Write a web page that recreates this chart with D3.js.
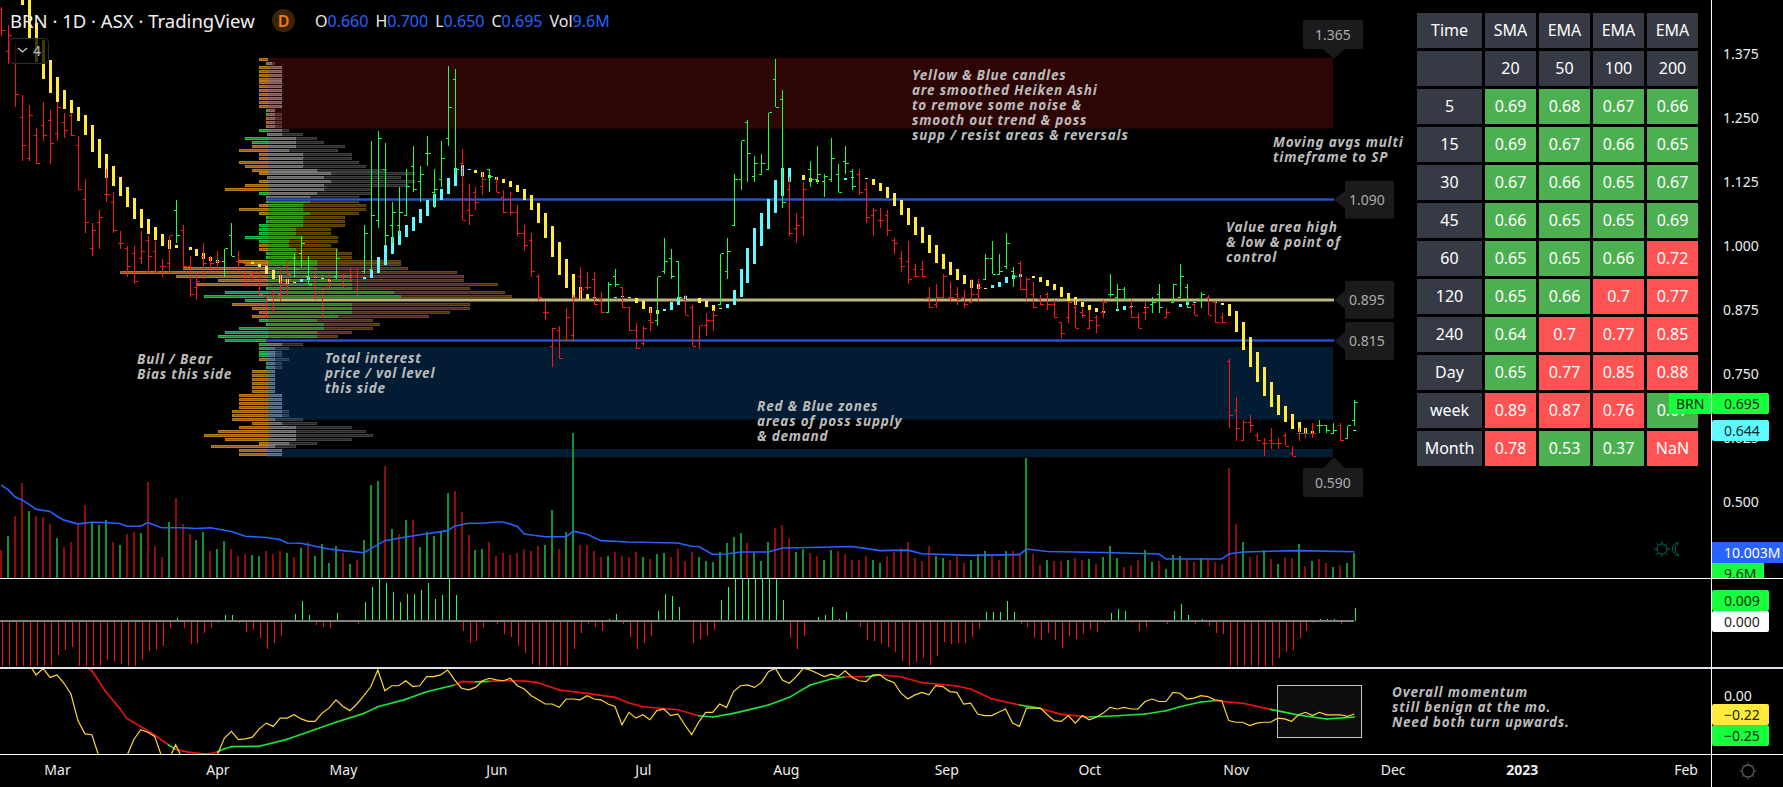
<!DOCTYPE html>
<html>
<head>
<meta charset="utf-8">
<style>
html, body { margin: 0; padding: 0; background: #000; overflow: hidden; }
svg { display: block; }
text { font-family: "Noto Sans", sans-serif; }
.note { font-weight: 700; font-style: italic; font-size: 13.5px; letter-spacing: 0.8px; fill: #bcbcbc; }
</style>
<script src="https://cdn.jsdelivr.net/npm/d3@7"></script>
</head>
<body>
<svg id="chart" width="1783" height="787"></svg>
<script>
// ---- daily bars (price in A$)
var barOpen = [
1.46,1.38,1.355,1.25,1.17,1.215,1.235,1.245,1.22,1.24,
1.255,1.195,1.09,.995,1.045,1.10,1.085,1.005,.995,.985,
.975,1.01,.99,.96,.965,1.07,1.03,.96,.92,.98,
.975,.97,.97,1.02,.97,.965,.945,.95,.90,.88,
.905,.925,.975,.985,.94,.915,.865,.92,.94,.94,
.935,.94,.95,.955,1.05,1.15,1.04,1.04,1.06,1.155,
1.125,1.18,1.105,1.13,1.21,1.325,1.16,1.07,1.105,1.115,
1.15,1.13,1.095,1.09,1.065,1.025,1.01,.94,.87,.805,
.835,.815,.825,.94,.92,.935,.895,.87,.94,.92,
.88,.835,.81,.855,.855,.95,.975,.97,.895,.88,
.815,.845,.855,.885,.95,1.04,1.13,1.24,1.135,1.14,
1.15,1.325,1.285,1.11,1.035,1.055,1.15,1.13,1.125,1.13,
1.14,1.165,1.145,1.14,1.11,1.06,1.05,1.06,1.01,.975,
.97,.955,.955,.90,.885,.90,.90,.905,.90,.89,
.905,.935,.975,.945,.96,.95,.965,.915,.905,.895,
.905,.885,.85,.86,.88,.87,.84,.86,.87,.905,
.90,.915,.88,.86,.87,.885,.905,.86,.89,.90,
.92,.885,.895,.90,.89,.86,.775,.68,.62,.655,
.63,.615,.62,.615,.63,.595,.635,.635,.635,.65,
.65,.635,.65,.625,.66];
var barHigh = [
1.465,1.43,1.395,1.295,1.275,1.23,1.28,1.265,1.28,1.26,
1.26,1.215,1.13,1.045,1.07,1.15,1.105,1.03,1.0,1.0,
1.03,1.02,1.01,.975,1.02,1.09,1.04,.98,.95,1.005,
.98,.99,.995,1.045,.99,.965,.95,.95,.905,.915,
.955,.97,.985,1.02,.98,.96,.92,.95,.995,.945,
.96,.955,1.04,1.205,1.225,1.2,1.085,1.115,1.15,1.195,
1.155,1.215,1.15,1.205,1.35,1.345,1.19,1.12,1.115,1.145,
1.15,1.135,1.11,1.105,1.08,1.04,1.025,.945,.89,.84,
.845,.88,.905,.96,.95,.95,.91,.93,.955,.92,
.88,.85,.845,.88,.94,1.015,.995,.97,.905,.885,
.845,.87,.875,.985,1.015,1.14,1.205,1.245,1.175,1.18,
1.26,1.365,1.305,1.135,1.065,1.125,1.165,1.195,1.14,1.21,
1.16,1.195,1.15,1.15,1.125,1.075,1.075,1.07,1.015,.99,
1.01,.965,.97,.92,.925,.945,.93,.92,.915,.935,
.935,.985,1.01,.985,1.025,.96,.97,.94,.93,.905,
.91,.895,.85,.89,.895,.88,.875,.865,.895,.945,
.925,.92,.895,.87,.89,.90,.925,.88,.925,.965,
.925,.885,.91,.905,.89,.87,.78,.705,.66,.67,
.635,.625,.645,.625,.635,.61,.645,.645,.655,.66,
.65,.655,.655,.65,.70];
var barLow = [
1.41,1.355,1.27,1.165,1.165,1.16,1.205,1.16,1.205,1.21,
1.215,1.11,1.025,.98,.995,1.085,1.025,.995,.94,.925,
.965,.945,.945,.94,.945,1.005,.955,.90,.895,.935,
.945,.945,.94,.98,.95,.925,.925,.905,.86,.87,
.89,.905,.94,.96,.925,.895,.86,.915,.935,.92,
.93,.905,.945,.955,1.035,1.0,1.005,1.02,1.06,1.105,
1.085,1.155,1.075,1.115,1.195,1.14,1.05,1.04,1.07,1.10,
1.105,1.105,1.065,1.06,1.02,.99,.94,.89,.855,.765,
.78,.815,.815,.895,.915,.885,.87,.87,.92,.88,
.835,.80,.805,.835,.845,.945,.935,.895,.865,.805,
.80,.825,.835,.885,.935,1.04,1.11,1.125,1.125,1.14,
1.15,1.27,1.075,1.02,1.005,1.02,1.115,1.12,1.095,1.125,
1.105,1.14,1.11,1.10,1.045,1.02,1.035,1.02,.985,.95,
.925,.94,.94,.88,.88,.90,.89,.885,.88,.89,
.89,.935,.945,.945,.955,.92,.915,.895,.88,.885,
.875,.86,.82,.85,.84,.86,.84,.83,.86,.90,
.875,.895,.86,.84,.855,.87,.87,.86,.89,.90,
.88,.865,.88,.865,.85,.85,.645,.62,.62,.635,
.62,.59,.605,.605,.61,.59,.62,.625,.625,.635,
.635,.635,.62,.625,.65];
var barClose = [
1.42,1.41,1.295,1.195,1.255,1.16,1.215,1.20,1.27,1.225,
1.215,1.11,1.045,1.03,1.055,1.10,1.03,1.005,.96,.93,
.99,.98,.95,.96,1.02,1.02,.96,.905,.93,.965,
.965,.97,.995,.98,.97,.925,.95,.905,.865,.90,
.93,.945,.955,1.005,.925,.915,.92,.935,.975,.92,
.935,.93,1.025,1.06,1.21,1.02,1.065,1.065,1.115,1.11,
1.14,1.18,1.11,1.17,1.27,1.15,1.05,1.06,1.085,1.13,
1.135,1.105,1.065,1.065,1.025,1.0,.95,.90,.87,.84,
.78,.86,.90,.915,.92,.885,.87,.925,.925,.88,
.835,.80,.84,.85,.94,.97,.94,.90,.865,.805,
.845,.855,.865,.985,.99,1.13,1.205,1.18,1.16,1.16,
1.26,1.27,1.085,1.025,1.04,1.11,1.13,1.14,1.135,1.17,
1.105,1.16,1.115,1.105,1.055,1.07,1.05,1.03,1.005,.96,
.935,.94,.94,.88,.90,.94,.90,.895,.885,.905,
.92,.975,.945,.95,1.005,.94,.915,.935,.88,.885,
.885,.86,.83,.89,.84,.865,.855,.845,.89,.905,
.915,.895,.86,.84,.88,.89,.88,.87,.925,.94,
.88,.865,.905,.865,.85,.85,.67,.645,.655,.65,
.62,.615,.615,.615,.61,.59,.635,.635,.635,.65,
.64,.64,.62,.65,.695];
var greenBarRanges = [[25,25],[32,33],[42,44],[48,48],[52,65],[70,70],[87,88],[94,97],[103,112],[116,122],[141,145],[159,161],[165,166],[168,170],[172,172],[189,191],[193,194]];

// smoothed Heiken Ashi bodies, top and bottom in 1/1000 A$, null where no body shows
var haTop = [
null,null,null,1500,1500,1434,1401,1362,1329,1304,
1285,1271,1255,1236,1208,1179,1156,1134,1115,1093,
1072,1052,1037,1023,1011,1002,null,998,994,986,
978,972,null,null,null,null,969,965,961,953,
943,935,930,935,939,939,937,935,null,null,
null,null,939,953,978,1001,1017,1029,1040,1056,
1072,1089,1101,1111,1132,1152,1157,1150,1148,1144,
1138,1134,1130,1126,1118,1111,1099,1083,1064,1038,
1007,974,945,921,906,900,null,null,900,902,
900,898,892,882,875,877,890,900,902,null,
898,892,884,879,886,914,955,997,1035,1064,
1091,1128,1152,1152,null,1138,1132,1128,null,null,
null,1132,1134,null,1132,1130,1122,1115,1103,1089,
1074,1056,1037,1021,1001,984,968,955,943,933,
925,919,923,929,939,943,945,null,941,939,
933,926,920,908,900,891,885,879,873,null,
877,883,883,null,881,null,null,null,null,887,
891,891,null,null,891,889,887,873,852,822,
793,764,735,709,688,672,657,645,639,null,
null,null,null,null,641];
var haBottom = [
null,null,null,1470,1405,1359,1325,1299,1281,1267,
1259,1244,1216,1183,1152,1132,1117,1097,1076,1052,
1035,1023,1011,1000,994,996,null,992,980,974,
970,967,null,null,null,null,965,959,946,935,
928,926,928,930,933,937,935,932,null,null,
null,null,935,937,947,962,984,1001,1017,1029,
1044,1058,1076,1089,1101,1117,1136,1148,1142,1134,
1132,1128,1122,1115,1105,1089,1070,1044,1015,978,
943,918,898,894,896,899,null,null,898,900,
898,888,877,869,867,873,875,884,894,null,
888,881,873,877,879,884,900,927,964,999,
1033,1064,1097,1124,null,1128,1124,1124,null,null,
null,1128,1133,null,1130,1118,1107,1093,1078,1060,
1040,1021,1005,986,966,955,943,933,925,919,
916,918,919,921,927,935,939,null,937,930,
922,914,900,893,885,881,875,871,869,null,
873,875,881,null,879,null,null,null,null,881,
885,889,null,null,889,885,863,832,797,764,
735,707,686,670,657,643,637,633,635,null,
null,null,null,null,639];
var haCyanRanges = [[43,45],[52,67],[88,89],[95,98],[104,113],[121,122],[142,146],[160,162],[169,171],[194,194]];

// volume in millions, with a colour letter per bar
var volumes = [
10.5,16.1,23.7,36.1,25.3,23.7,23.3,20.6,15.3,11.9,
13.8,20.6,27.8,21.1,20,22.2,13.8,12.7,16.8,17.6,
17.2,36.6,12.3,8.1,21.4,30.5,20.6,16.8,14.6,17.6,
10.4,11.1,14.2,11.1,8.5,9.2,8.9,8.5,10.4,9.2,
10.4,9.6,8.1,11.5,13.8,8.5,13,5.8,12.3,9.6,
5.4,7,14.6,35.4,37,42.7,18.7,16.8,22.2,22.2,
11.9,17.6,16.1,17.6,32.4,33.2,25.2,16.5,10.8,11.1,
13.8,8.5,9.6,8.9,9.6,11.1,10.4,12.3,12.7,25.9,
11.1,17.6,55.1,12.7,12.7,10.4,8.1,8.5,10,8.5,
8.1,10,8.1,7.3,9.2,9.6,8.1,11.1,6.6,10,
8.1,6.6,6.2,10,13.4,15.7,17.2,13.4,9.6,6.6,
13.8,19.1,20.3,15.3,10,11.1,9.6,8.5,7,10.8,
10.4,9.2,7,7,8.5,7,5.8,8.5,10,11.5,
13.8,7.7,6.6,12.3,8.5,7.7,7,8.5,5.8,7,
9.2,10.4,8.5,7,10.4,10.4,9.2,45.6,9.2,5.1,
7,6.6,6.6,7,7.7,7,7.3,5.4,8.1,12.3,
7.7,4.3,5.1,7,10.8,6.2,6.6,3.5,8.9,8.5,
7.3,6.2,7.7,7.3,6.2,5.4,41.9,20.6,13.8,8.1,
8.9,10.8,7.3,5.4,8.1,7.7,13,4.7,6.6,7.3,
5.8,4.3,5.1,5.8,9.6];
var volumeColours =
"RGRRGRRRGR" + "RRRGGGRGRR" + "GRRRGRRRGG" + "RGGRRRGGRR" +
"RGRGRGGGGR" + "GRGGGRGRGR" + "GGGGGRRRGG" + "RRRRRRRRGG" +
"RGGRRRRGRR" + "RRGRGGRRRR" + "GGGGGGGRGG" + "GRRRGGRRGG" +
"RRRRRGGRRR" + "RRRRGGRRRG" + "GGRRGRRGRR" + "GRRGRRGRGG" +
"GRRRGGRGGG" + "RRGRRRRRGR" + "RGRGRRGRGR" + "RGRGG";

var volumeMaIndex = [0,1,2,3,4,5,7,8,9,11,13,15,17,18,20,21,23,26,28,30,33,35,38,40,41,43,45,47,49,52,55,58,61,64,65,67,69,71,72,74,75,78,81,82,84,86,90,97,99,100,102,104,106,110,112,116,122,126,130,132,139,146,147,150,158,166,167,175,176,178,186,194];
var volumeMa = [35.4,33.5,30.8,29.7,28,26.1,25.3,23.5,22,20.6,21.2,21.1,20.7,19.7,19.7,21.1,19.1,19.1,18.8,19.1,17.7,15.9,15.4,14.6,13.3,13.2,12.1,11,10.4,9.6,14.2,15.6,16.8,18,19.7,20.8,20.8,21.3,21.3,19.6,16.7,15.7,15.7,17.8,16.6,14.2,13.7,13.3,12.1,12,9,9.1,9.9,9.9,11.4,11.6,12,10.4,10.6,9.2,8.6,8.9,11,10.1,9.7,9.1,7.2,7.2,9.1,9.9,10.4,10.0];

// histogram oscillator, x1000
var histValues = [
-34,-34,-34,-34,-34,-34,-34,-34,-23.7,-20.2,
-17.9,-31.3,-33,-33,-33,-27.1,-28.3,-29.9,-33,-33,
-27.1,-20.9,-20.2,-17.2,-4.8,1.8,-4.8,-15.9,-15.4,-8.3,
-4.8,-1.4,3.9,3.9,-1.4,-7.8,-6.4,-11.5,-19.5,-15.2,
-10.3,.2,4.6,13.6,3.9,-3,-4.1,-4.8,5.3,-.2,
-.2,-2.1,12.9,23.2,28.7,26,19.8,12.9,18.4,18.4,
21.1,26,14.9,17.7,28.7,17.7,-7.1,-15.4,-14,-4.8,
.5,-2.1,-9.2,-11.3,-17.5,-22.3,-29.9,-33,-33,-33,
-33,-33,-19.5,-8.5,-2.1,-4.1,-7.1,1.1,4.6,-2.1,
-11.3,-19.5,-15.4,-10.6,6.7,18.4,17,9.4,0,-15.4,
-12.6,-10.6,-6.4,14.3,23.2,31,31,31,31,31,
31,31,14.3,-12,-19.5,-10.6,.5,2.5,3.9,9.4,
1.1,6,.5,-4.4,-13.3,-14,-16.1,-18.2,-21.6,-27.8,
-31.3,-28.5,-25.7,-30.6,-24.4,-14.7,-16.1,-15.4,-15.4,-11.3,
-5.7,6,6,6,13.6,6,-2.1,-4.4,-12,-13.3,
-8.5,-13.3,-18.9,-10.6,-12.6,-9.2,-6.4,-7.8,-1.4,5.3,
8,6.7,-1.4,-7.1,-4.4,.5,.5,-2.1,6.7,11.5,
3.9,-2.1,1.1,-3.7,-8.5,-9.2,-34,-34,-34,-34,
-34,-34,-34,-25.7,-21.6,-20.2,-12,-7.1,-1.4,1.1,
1.1,1.1,-2.1,-.9,8.7];

// momentum and its signal
var momentum = [
null,null,null,null,.38,.25,.33,.22,.25,.15,
.02,-.30,-.46,-.47,-.73,-.94,-1.02,-.90,-.73,-.53,
-.41,-.44,-.49,-.73,-.78,-.59,-.76,-.88,-.92,-.88,
-.80,-.71,-.51,-.43,-.53,-.52,-.50,-.40,-.33,-.37,
-.27,-.27,-.23,-.28,-.31,-.31,-.21,-.15,-.05,-.13,
-.18,-.10,0,.11,.31,.06,.12,.12,.18,.11,
.12,.23,.23,.25,.31,.19,.09,.07,.10,.18,
.21,.19,.18,.21,.12,.08,0,-.05,-.10,-.10,
-.14,-.04,-.04,-.05,0,-.04,-.05,-.10,-.13,-.35,
-.20,-.27,-.23,-.29,-.18,-.16,-.24,-.22,-.35,-.47,
-.32,-.20,-.20,-.10,-.14,.05,.12,.13,.10,.16,
.29,.33,.19,.15,.23,.33,.31,.27,.23,.26,
.23,.30,.22,.18,.17,.25,.25,.19,.16,.03,
-.04,.01,.04,.01,.12,.11,.05,.04,-.10,-.09,
-.22,-.24,-.24,-.20,-.16,-.33,-.37,-.15,-.15,-.15,
-.23,-.30,-.31,-.24,-.33,-.24,-.29,-.26,-.21,-.14,
-.16,-.14,-.16,-.16,-.07,-.04,-.07,-.07,.04,.03,
-.04,-.03,0,-.01,-.05,-.06,-.30,-.32,-.32,-.36,
-.33,-.32,-.32,-.27,-.28,-.31,-.23,-.20,-.24,-.20,
-.23,-.23,-.23,-.25,-.22];
var signalIndex = [12,13,15,17,18,19,22,24,25,27,29,30,31,32,33,37,41,45,48,52,54,58,61,65,66,68,70,72,75,77,80,84,88,90,92,97,100,102,105,110,113,116,119,121,122,124,126,129,132,137,139,142,146,149,152,156,160,164,167,169,172,174,178,182,186,190,194];
var signalValues = [.349,.301,.048,-.153,-.273,-.321,-.474,-.594,-.647,-.683,-.699,-.699,-.675,-.639,-.614,-.610,-.526,-.406,-.321,-.213,-.133,-.044,.048,.129,.169,.167,.173,.181,.177,.157,.068,.028,-.02,-.088,-.133,-.169,-.241,-.257,-.213,-.112,-.02,.129,.201,.229,.229,.229,.249,.229,.157,.116,.08,-.036,-.112,-.153,-.225,-.257,-.241,-.221,-.181,-.133,-.076,-.06,-.092,-.165,-.233,-.281,-.257];

// volume profile rows from 1.365 down to 0.590: bull/bear bias (+ bull, - bear) and total/inner width
var profileBias = [
-8,1,-8,-8,-8,-8,-8,-8,-8,-8,-8,-8,-8,1,1,-1,-1,-1,8,0,
22,15,-15,-28,-8,-8,-28,-22,-15,-8,0,-8,-22,-42,8,-1,1,-8,-28,-8,
1,1,8,8,8,22,8,-8,-8,1,1,-28,-22,-84,-147,-91,-49,-70,1,42,
63,22,-35,-15,-8,-15,8,1,28,42,49,42,8,8,8,8,-8,1,1,-15,
-15,-15,-15,-15,-15,-28,-28,-28,-28,-35,-35,-35,-15,-28,-49,-63,-42,-8,-56,-28,-28];
var profileTotal = [
0,7,14,14,14,14,14,14,14,14,14,14,14,7,14,14,14,14,21,35,
49,56,77,70,84,84,91,98,119,147,133,147,140,104,104,91,91,98,98,91,
77,77,77,63,63,70,70,63,70,84,84,133,133,140,189,196,196,230,202,237,
244,264,202,202,182,161,105,112,105,84,70,63,35,21,14,14,21,14,14,7,
7,7,7,7,7,14,14,14,14,21,21,35,49,84,98,105,84,49,28,14,14];
var profileInner = [
0,4,14,14,14,14,14,14,14,14,14,14,14,7,7,7,7,7,14,14,
28,28,28,21,35,35,35,35,49,63,56,63,56,56,49,42,42,35,35,42,
35,35,35,28,28,35,21,21,28,28,28,49,49,49,70,84,84,84,84,126,
133,126,84,84,84,70,49,56,56,49,49,42,14,7,7,7,7,7,7,7,
7,7,7,7,7,14,14,14,14,14,14,7,14,28,28,28,28,21,7,14,14];

// levels
var pocPrice = 0.895, vahPrice = 1.090, valPrice = 0.815, lowPrice = 0.590;

// axis ticks
var priceTicks = [1.375, 1.25, 1.125, 1.0, 0.875, 0.75, 0.625, 0.5];
var monthNames = ["Mar","Apr","May","Jun","Jul","Aug","Sep","Oct","Nov","Dec","2023","Feb"];
var monthIndex = [8,31,49,71,92,112.5,135.5,156,177,199.5,218,241.5];

// moving average table
var tableHead = [["Time","SMA","EMA","EMA","EMA"],["","20","50","100","200"]];
var tableTimes = ["5","15","30","45","60","120","240","Day","week","Month"];
var tableSma20 = ["0.69","0.69","0.67","0.66","0.65","0.65","0.64","0.65","0.89","0.78"];
var tableEma50 = ["0.68","0.67","0.66","0.65","0.65","0.66","0.7","0.77","0.87","0.53"];
var tableEma100 = ["0.67","0.66","0.65","0.65","0.66","0.7","0.77","0.85","0.76","0.37"];
var tableEma200 = ["0.66","0.65","0.67","0.69","0.72","0.77","0.85","0.88","0.67","NaN"];
var lastClose = 0.695;

var RED = "#ff1414", GREEN = "#17ff3c", YELLOW = "#ffeb3b", CYAN = "#5efaff";

var svg = d3.select("#chart");

function inRanges(ranges, i) {
    return ranges.some(function (r) { return i >= r[0] && i <= r[1]; });
}

// scales
var x = d3.scaleLinear().domain([0, 194]).range([1.2, 1354.3]);
var y = d3.scaleLinear().domain([0.5, 1.375]).range([502.5, 53.6]);
var yVol = d3.scaleLinear().domain([0, 60]).range([578, 420.2]);
var yHist = d3.scaleLinear().domain([-40, 40]).range([679, 563]);
var yMom = d3.scaleLinear().domain([-1, 1]).range([778.7, 612.7]);
var px = function (i) { return Math.round(x(i)); };

// clip regions for the two lower panes
var defs = svg.append("defs");
defs.append("clipPath").attr("id", "histClip").append("rect").attr("x", 0).attr("y", 579).attr("width", 1711).attr("height", 87);
defs.append("clipPath").attr("id", "momClip").append("rect").attr("x", 0).attr("y", 669).attr("width", 1711).attr("height", 85);

// ---- volume profile
var rows = d3.scaleBand().domain(d3.range(profileTotal.length)).range([y(1.365) - 1, y(0.59) + 1]);
var profileX = 267;
var gp = svg.append("g").attr("shape-rendering", "crispEdges");

function inValueArea(k) {
    var p = 1.365 - k * (1.365 - 0.59) / (profileTotal.length - 1);
    return p <= vahPrice && p >= valPrice;
}

profileTotal.forEach(function (t, k) {
    var ry = Math.round(rows(k)) + 0.5;
    var va = inValueArea(k);
    var b = profileBias[k];
    if (t > 0) {
        gp.append("rect").attr("x", profileX).attr("y", ry).attr("width", t).attr("height", 2)
            .attr("fill", va ? "#4a2f0a" : "#262626").attr("stroke", va ? "#6b4711" : "#404040");
        gp.append("rect").attr("x", profileX).attr("y", ry).attr("width", profileInner[k]).attr("height", 2)
            .attr("fill", va ? "#2f7a18" : "#5c5c5c").attr("stroke", va ? "#40991f" : "#7c7c7c");
    }
    if (b !== 0) {
        gp.append("rect").attr("x", profileX - Math.abs(b))
            .attr("y", ry).attr("width", Math.abs(b)).attr("height", 2)
            .attr("fill", b > 0 ? "#0a8a35" : "#96590c").attr("stroke", b > 0 ? "#14c24a" : "#b87a1a");
    }
});

// ---- zones and levels
svg.append("rect").attr("x", profileX - 1).attr("y", y(1.365) - 1).attr("width", 1334 - profileX).attr("height", y(1.227) - y(1.365))
    .attr("fill", "rgb(255,30,30)").attr("fill-opacity", 0.18);
svg.append("rect").attr("x", profileX - 1).attr("y", 347).attr("width", 1334 - profileX).attr("height", y(0.6615) - 347)
    .attr("fill", "rgb(8,116,204)").attr("fill-opacity", 0.25);
svg.append("rect").attr("x", profileX - 1).attr("y", 449).attr("width", 1334 - profileX).attr("height", y(lowPrice) - 449 + 1)
    .attr("fill", "rgb(8,116,204)").attr("fill-opacity", 0.25);

[vahPrice, valPrice].forEach(function (p) {
    svg.append("line").attr("x1", profileX - 1).attr("x2", 1334).attr("y1", y(p)).attr("y2", y(p))
        .attr("stroke", "#1a3c96").attr("stroke-width", 3).attr("shape-rendering", "crispEdges");
    svg.append("line").attr("x1", profileX - 1).attr("x2", 1334).attr("y1", y(p)).attr("y2", y(p))
        .attr("stroke", "#2a55d0").attr("stroke-width", 1).attr("shape-rendering", "crispEdges");
});
svg.append("line").attr("x1", profileX - 1).attr("x2", 1334).attr("y1", y(pocPrice) + 0.5).attr("y2", y(pocPrice) + 0.5)
    .attr("stroke", "#5d5a40").attr("stroke-width", 4).attr("shape-rendering", "crispEdges");
svg.append("line").attr("x1", profileX - 1).attr("x2", 1334).attr("y1", y(pocPrice) + 0.5).attr("y2", y(pocPrice) + 0.5)
    .attr("stroke", "#bdb57e").attr("stroke-width", 2).attr("shape-rendering", "crispEdges");

// ---- volume
var gv = svg.append("g").attr("shape-rendering", "crispEdges");
gv.selectAll("rect").data(volumes).enter().append("rect")
    .attr("x", function (d, i) { return px(i) - 1; })
    .attr("y", function (d) { return yVol(d); })
    .attr("width", 2)
    .attr("height", function (d) { return yVol(0) - yVol(d); })
    .attr("fill", function (d, i) { return volumeColours[i] === "G" ? "#12912e" : "#8f0c0c"; });

var maLine = d3.line()
    .x(function (d) { return x(d[0]); })
    .y(function (d) { return yVol(d[1]); });
svg.append("path").datum(d3.zip(volumeMaIndex, volumeMa))
    .attr("d", maLine).attr("fill", "none").attr("stroke", "#2962ff").attr("stroke-width", 1.6);

// ---- Heiken Ashi bodies
var gh = svg.append("g").attr("shape-rendering", "crispEdges");
haTop.forEach(function (t, i) {
    if (t === null) return;
    var y0 = y(t / 1000), y1 = y(haBottom[i] / 1000);
    gh.append("rect").attr("x", px(i) - 1).attr("y", y0).attr("width", 3).attr("height", Math.max(1, y1 - y0))
        .attr("fill", inRanges(haCyanRanges, i) ? CYAN : YELLOW);
});

// ---- OHLC bars
var gb = svg.append("g").attr("shape-rendering", "crispEdges");
barOpen.forEach(function (o, i) {
    var c = inRanges(greenBarRanges, i) ? GREEN : RED;
    var bx = px(i) + 0.5;
    gb.append("line").attr("x1", bx).attr("x2", bx).attr("y1", y(barHigh[i])).attr("y2", y(barLow[i])).attr("stroke", c);
    gb.append("line").attr("x1", bx - 3).attr("x2", bx).attr("y1", y(o)).attr("y2", y(o)).attr("stroke", c);
    gb.append("line").attr("x1", bx).attr("x2", bx + 3).attr("y1", y(barClose[i])).attr("y2", y(barClose[i])).attr("stroke", c);
});

// ---- histogram pane
var gh2 = svg.append("g").attr("clip-path", "url(#histClip)").attr("shape-rendering", "crispEdges");
gh2.selectAll("line").data(histValues).enter().append("line")
    .attr("x1", function (d, i) { return px(i) + 1.5; })
    .attr("x2", function (d, i) { return px(i) + 1.5; })
    .attr("y1", yHist(0))
    .attr("y2", function (d) { return yHist(d); })
    .attr("stroke", function (d) { return d >= 0 ? "#1dff5c" : "#ff1010"; });
svg.append("line").attr("x1", 0).attr("x2", x(194)).attr("y1", yHist(0)).attr("y2", yHist(0))
    .attr("stroke", "#808080").attr("stroke-width", 2).attr("shape-rendering", "crispEdges");

// ---- momentum pane
var gm = svg.append("g").attr("clip-path", "url(#momClip)");
var signal = d3.zip(signalIndex, signalValues);
d3.pairs(signal).forEach(function (s) {
    var end = s[1];
    gm.append("line")
        .attr("x1", x(s[0][0])).attr("y1", yMom(s[0][1]))
        .attr("x2", x(end[0])).attr("y2", yMom(end[1]))
        .attr("stroke", momentum[end[0]] >= end[1] ? "#17e63c" : "#f01212")
        .attr("stroke-width", 1.6).attr("stroke-linecap", "round");
});
var momLine = d3.line()
    .defined(function (d) { return d !== null; })
    .x(function (d, i) { return x(i); })
    .y(function (d) { return yMom(d); });
gm.append("path").datum(momentum).attr("d", momLine)
    .attr("fill", "none").attr("stroke", "#fdd835").attr("stroke-width", 1.2);

svg.append("rect").attr("x", 1277.5).attr("y", 685.5).attr("width", 84).attr("height", 52)
    .attr("fill", "#fff").attr("fill-opacity", 0.05).attr("stroke", "#c4c4c4");

// ---- tags for the levels
function levelTag(price, label) {
    var ty = y(price);
    var g = svg.append("g");
    g.append("path").attr("d", "M1334," + ty + "L1345," + (ty - 9) + "V" + (ty - 17) + "a2,2 0 0 1 2,-2H1392a2,2 0 0 1 2,2V" + (ty + 17) + "a2,2 0 0 1 -2,2H1347a2,2 0 0 1 -2,-2V" + (ty + 9) + "Z")
        .attr("fill", "#1b1b1d");
    g.append("text").attr("x", 1367).attr("y", ty + 5).attr("text-anchor", "middle")
        .attr("font-size", 14).attr("fill", "#acacac").text(label);
}
levelTag(vahPrice, "1.090");
levelTag(pocPrice, "0.895");
levelTag(valPrice, "0.815");

function vertTag(label, boxTop, tipY) {
    var g = svg.append("g");
    g.append("path").attr("d", "M1305," + boxTop + "H1323L1334," + tipY + "L1345," + boxTop + "H1361a2,2 0 0 1 2,2V" + (boxTop + 27) + "a2,2 0 0 1 -2,2H1305a2,2 0 0 1 -2,-2V" + (boxTop + 2) + "a2,2 0 0 1 2,-2Z")
        .attr("fill", "#1b1b1d");
    g.append("text").attr("x", 1333).attr("y", boxTop + 20).attr("text-anchor", "middle")
        .attr("font-size", 14).attr("fill", "#acacac").text(label);
}
vertTag("0.590", 468, y(lowPrice) + 1);
// the 1.365 tag hangs above its level
svg.append("path").attr("d", "M1305,20H1361a2,2 0 0 1 2,2V47a2,2 0 0 1 -2,2H1345L1334," + y(1.365) + "L1323,49H1305a2,2 0 0 1 -2,-2V22a2,2 0 0 1 2,-2Z")
    .attr("fill", "#1b1b1d");
svg.append("text").attr("x", 1333).attr("y", 40).attr("text-anchor", "middle")
    .attr("font-size", 14).attr("fill", "#acacac").text("1.365");

// ---- hand written notes
function note(lx, ly, lines) {
    lines.forEach(function (t, i) {
        svg.append("text").attr("class", "note").attr("x", lx).attr("y", ly + i * 15).text(t);
    });
}
note(912, 80, ["Yellow & Blue candles", "are smoothed Heiken Ashi", "to remove some noise &", "smooth out trend & poss", "supp / resist areas & reversals"]);
note(1273, 147, ["Moving avgs multi", "timeframe to SP"]);
note(1226, 232, ["Value area high", "& low & point of", "control"]);
note(137, 364, ["Bull / Bear", "Bias this side"]);
note(325, 363, ["Total interest", "price / vol level", "this side"]);
note(757, 411, ["Red & Blue zones", "areas of poss supply", "& demand"]);
note(1392, 697, ["Overall momentum", "still benign at the mo.", "Need both turn upwards."]);

// ---- table
var tableCols = [[1417, 65], [1485, 51], [1539, 51], [1593, 51], [1647, 51]];
var tableRows = tableHead.concat(tableTimes.map(function (t, i) {
    return [t, tableSma20[i], tableEma50[i], tableEma100[i], tableEma200[i]];
}));
var gt = svg.append("g");
tableRows.forEach(function (row, r) {
    row.forEach(function (cell, c) {
        var bg = "#363a45";
        if (r > 1 && c > 0) {
            bg = (cell === "NaN" || +cell > lastClose) ? "#ff5252" : "#4caf50";
        }
        gt.append("rect").attr("x", tableCols[c][0]).attr("y", 13 + r * 38)
            .attr("width", tableCols[c][1]).attr("height", 35).attr("fill", bg);
        gt.append("text").attr("x", tableCols[c][0] + tableCols[c][1] / 2).attr("y", 13 + r * 38 + 23)
            .attr("text-anchor", "middle").attr("font-size", 16).attr("fill", "#fff").text(cell);
    });
});

// ---- price axis and pane separators
svg.append("g").attr("transform", "translate(1711,0)")
    .call(d3.axisRight(y).tickValues(priceTicks).tickFormat(d3.format(".3f")).tickSize(0).tickPadding(12))
    .call(function (g) {
        g.select(".domain").remove();
        g.selectAll("text").attr("font-size", 14).attr("fill", "#eee").style("font-family", '"Noto Sans", sans-serif');
    });

svg.append("g").attr("transform", "translate(0,754)")
    .call(d3.axisBottom(x).tickValues(monthIndex).tickFormat(function (d, i) { return monthNames[i]; }).tickSize(0).tickPadding(11))
    .call(function (g) {
        g.select(".domain").remove();
        g.selectAll("text").attr("font-size", 14).attr("fill", "#eee").style("font-family", '"Noto Sans", sans-serif')
            .attr("font-weight", function (d, i) { return monthNames[i] === "2023" ? 700 : 400; });
    });

svg.append("g").attr("stroke", "#fff").attr("shape-rendering", "crispEdges").call(function (g) {
    g.append("line").attr("x1", 0).attr("x2", 1783).attr("y1", 578.5).attr("y2", 578.5);
    g.append("line").attr("x1", 0).attr("x2", 1783).attr("y1", 667.5).attr("y2", 667.5).attr("stroke", "#e0e3eb").attr("stroke-width", 2);
    g.append("line").attr("x1", 0).attr("x2", 1783).attr("y1", 754.5).attr("y2", 754.5);
    g.append("line").attr("x1", 1711.5).attr("x2", 1711.5).attr("y1", 0).attr("y2", 787);
});

// ---- last value labels
function axisLabel(lx, ly, w, h, bg, fg, label, tx, round) {
    svg.append("rect").attr("x", lx).attr("y", ly).attr("width", w).attr("height", h).attr("fill", bg).attr("rx", round ? 2 : 0);
    svg.append("text").attr("x", tx).attr("y", ly + h / 2 + 5).attr("font-size", 14).attr("fill", fg).text(label);
}
axisLabel(1669, 393, 42, 21, GREEN, "#0a2a10", "BRN", 1676);
axisLabel(1712, 393, 57, 21, GREEN, "#0a2a10", "0.695", 1724, true);
axisLabel(1712, 420, 57, 21, CYAN, "#10272b", "0.644", 1724, true);
axisLabel(1712, 542, 71, 21, "#2962ff", "#fff", "10.003M", 1724);
svg.append("clipPath").attr("id", "tagClip").append("rect").attr("x", 1700).attr("y", 563).attr("width", 83).attr("height", 15);
svg.append("g").attr("clip-path", "url(#tagClip)").call(function (g) {
    g.append("rect").attr("x", 1712).attr("y", 563).attr("width", 52).attr("height", 21).attr("fill", GREEN);
    g.append("text").attr("x", 1724).attr("y", 579).attr("font-size", 14).attr("fill", "#0a2a10").text("9.6M");
});
axisLabel(1712, 590, 57, 21, GREEN, "#0a2a10", "0.009", 1724, true);
axisLabel(1712, 611, 57, 21, "#fff", "#222", "0.000", 1724, true);
svg.append("text").attr("x", 1724).attr("y", 701).attr("font-size", 14).attr("fill", "#eee").text("0.00");
axisLabel(1712, 704, 57, 21, YELLOW, "#222", "\u22120.22", 1724, true);
axisLabel(1712, 725, 57, 21, GREEN, "#0a2a10", "\u22120.25", 1724, true);

// ---- chart title and legend
svg.append("text").attr("x", 10).attr("y", 28).attr("font-size", 18.5).attr("fill", "#f0f0f0").text("BRN \u00b7 1D \u00b7 ASX \u00b7 TradingView");
svg.append("circle").attr("cx", 283.5).attr("cy", 20.5).attr("r", 11.5).attr("fill", "#3a2407");
svg.append("text").attr("x", 283.5).attr("y", 26.5).attr("text-anchor", "middle").attr("font-size", 16).attr("font-weight", 600).attr("fill", "#f57c00").text("D");

var ohlc = svg.append("text").attr("x", 315).attr("y", 27).attr("font-size", 16);
[["O", "0.660"], ["H", "0.700"], ["L", "0.650"], ["C", "0.695"], ["Vol", "9.6M"]].forEach(function (d, i) {
    ohlc.append("tspan").attr("dx", i ? 7 : 0).attr("fill", "#e8e8e8").text(d[0]);
    ohlc.append("tspan").attr("fill", "#2962ff").text(d[1]);
});

// collapsed indicators box
svg.append("rect").attr("x", 9.5).attr("y", 38.5).attr("width", 39).attr("height", 25).attr("rx", 4)
    .attr("fill", "#000").attr("fill-opacity", 0.75).attr("stroke", "#2a2e39");
svg.append("path").attr("d", "M18,48l4.5,4l4.5,-4").attr("fill", "none").attr("stroke", "#ccc").attr("stroke-width", 1.3);
svg.append("text").attr("x", 33).attr("y", 56).attr("font-size", 14).attr("fill", "#bbb").text("4");

// ---- sun / moon and gear icons
function rays(cx, cy, r0, r1, colour) {
    d3.range(8).forEach(function (k) {
        var a = k * Math.PI / 4;
        svg.append("line").attr("x1", cx + r0 * Math.cos(a)).attr("y1", cy + r0 * Math.sin(a))
            .attr("x2", cx + r1 * Math.cos(a)).attr("y2", cy + r1 * Math.sin(a)).attr("stroke", colour);
    });
}
svg.append("circle").attr("cx", 1662).attr("cy", 549).attr("r", 5).attr("fill", "none").attr("stroke", "#00695c");
rays(1662, 549, 5, 8, "#00695c");
svg.append("path").attr("d", "M1679,542.5a6.5,6.5 0 1 0 0,13a7.5,7.5 0 0 1 0,-13Z").attr("fill", "none").attr("stroke", "#00695c");
svg.append("circle").attr("cx", 1748).attr("cy", 771).attr("r", 6).attr("fill", "none").attr("stroke", "#555a66").attr("stroke-width", 1.3);
rays(1748, 771, 6, 8.5, "#555a66");
</script>
</body>
</html>
